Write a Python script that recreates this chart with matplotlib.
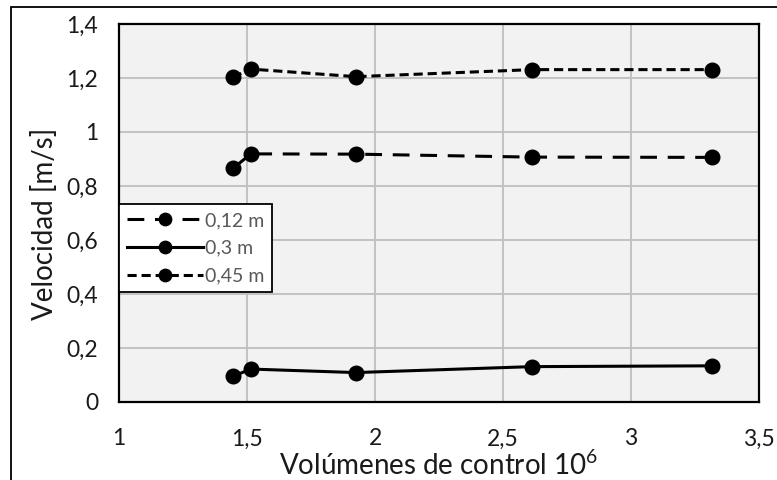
import matplotlib.pyplot as plt
from matplotlib.patches import Rectangle

plt.rcParams['font.family'] = ['Lato', 'DejaVu Sans']
plt.rcParams['mathtext.fontset'] = 'custom'
plt.rcParams['mathtext.rm'] = 'Lato'
plt.rcParams['mathtext.it'] = 'Lato:italic'

# Mesh size (millions of control volumes) and velocity per probe height
volumes = [1.445, 1.515, 1.925, 2.613, 3.316]
v_012 = [0.865, 0.919, 0.918, 0.907, 0.906]
v_030 = [0.095, 0.122, 0.109, 0.131, 0.134]
v_045 = [1.203, 1.233, 1.205, 1.231, 1.231]
labels = ['0,12 m', '0,3 m', '0,45 m']

x_ticks = [1, 1.5, 2, 2.5, 3, 3.5]
x_ticklabels = ['1', '1,5', '2', '2,5', '3', '3,5']
y_ticks = [0, 0.2, 0.4, 0.6, 0.8, 1.0, 1.2, 1.4]
y_ticklabels = ['0', '0,2', '0,4', '0,6', '0,8', '1', '1,2', '1,4']

fig = plt.figure(figsize=(7.77, 4.8), dpi=100)
ax = fig.add_axes([119 / 777, 1 - 402 / 480, 640 / 777, 378 / 480])

# outer chart frame (clipped at right/bottom)
fig.patches.append(Rectangle((11 / 777, -0.1), 1.2, 1 - 7 / 480 + 0.1,
                             transform=fig.transFigure, fill=False,
                             edgecolor='black', linewidth=1.3, zorder=0))

lw = 2.2
ms = 10.5
ax.plot(volumes, v_012, color='black', lw=lw, marker='o', ms=ms,
        dashes=(5.5, 3.5), label=labels[0])
ax.plot(volumes, v_030, color='black', lw=lw, marker='o', ms=ms,
        label=labels[1])
ax.plot(volumes, v_045, color='black', lw=lw, marker='o', ms=ms,
        dashes=(3.0, 1.6), label=labels[2])

ax.set_xlim(1, 3.5)
ax.set_ylim(0, 1.4)
ax.set_xticks(x_ticks)
ax.set_xticklabels(x_ticklabels)
ax.set_yticks(y_ticks)
ax.set_yticklabels(y_ticklabels)
ax.tick_params(length=0, labelsize=16.5, colors='#1a1a1a')
ax.tick_params(axis='x', pad=19)
ax.tick_params(axis='y', pad=15)

ax.set_facecolor('#f2f2f2')
ax.grid(True, color='#bfbfbf', linewidth=1.3)
ax.set_axisbelow(True)
for s in ax.spines.values():
    s.set_linewidth(1.6)
    s.set_color('black')

ax.set_xlabel('Volúmenes de control 10$^{6}$', fontsize=20, color='#1a1a1a')
ax.set_ylabel('Velocidad [m/s]', fontsize=20, color='#1a1a1a')
ax.xaxis.set_label_coords(0.5, -0.13)
ax.yaxis.set_label_coords(-0.095, 0.471)

leg = ax.legend(loc='upper left', bbox_to_anchor=(0.0, 0.523), fontsize=14,
                frameon=True, fancybox=False, framealpha=1, edgecolor='black',
                handlelength=3.9, handletextpad=0.1, borderpad=0.4,
                labelspacing=0.55, borderaxespad=0, markerscale=0.85)
leg.get_frame().set_linewidth(1.3)
for t in leg.get_texts():
    t.set_color('#595959')

fig.savefig('out.png', dpi=100)
